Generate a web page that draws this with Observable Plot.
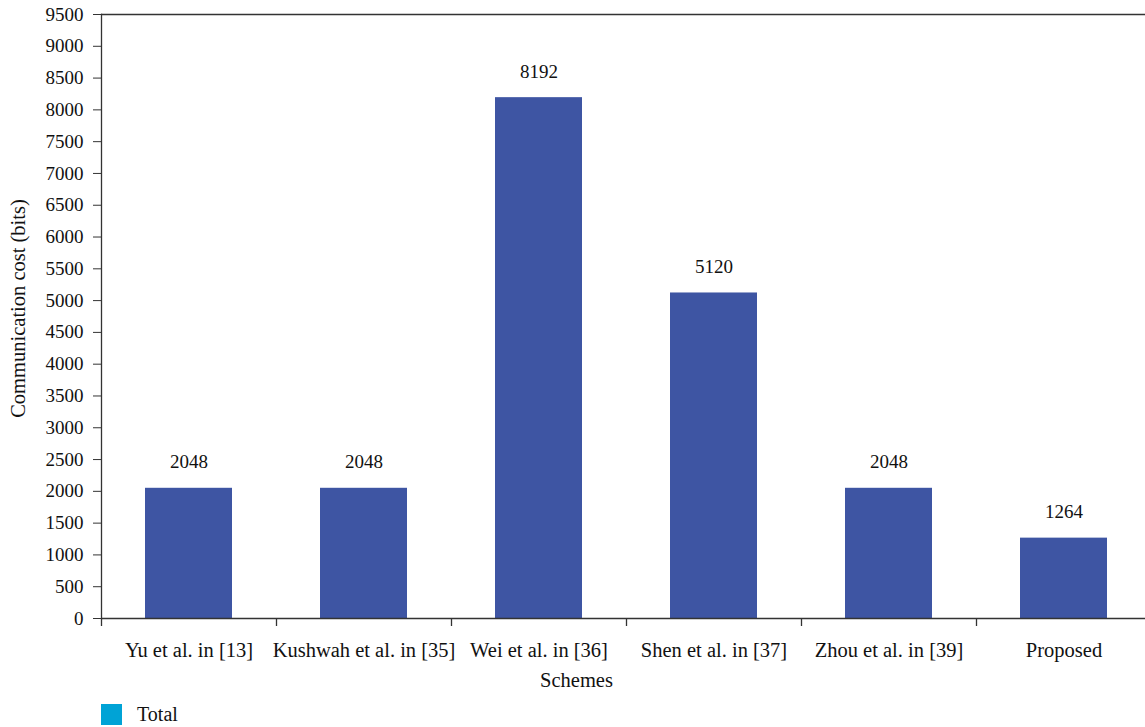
<!DOCTYPE html>
<html>
<head>
<meta charset="utf-8">
<script src="https://cdn.jsdelivr.net/npm/d3@7"></script>
<script src="https://cdn.jsdelivr.net/npm/@observablehq/plot@0.6"></script>
<style>
  body { margin: 0; background: #fff; font-family: "Liberation Serif", serif; overflow: hidden; }
  svg text { font-family: "Liberation Serif", serif !important; }
  #legend { display: flex; align-items: center; margin-left: 101px; margin-top: 13px; font-size: 20px; color: #111; }
  #legend .sw { width: 21px; height: 21px; background: #00a3d6; margin-right: 15px; }
</style>
</head>
<body>
<div id="chart"></div>
<div id="legend"><div class="sw"></div><span>Total</span></div>
<script>
const schemes = ["Yu et al. in [13]", "Kushwah et al. in [35]", "Wei et al. in [36]", "Shen et al. in [37]", "Zhou et al. in [39]", "Proposed"];
const values = [2048, 2048, 8192, 5120, 2048, 1264];
const yTicks = d3.range(0, 9501, 500);

const data = schemes.map((s, i) => ({scheme: s, value: values[i]}));
const axisColor = "#333";
const fs = 19;
const fsx = 20.5;

const plot = Plot.plot({
  width: 1145,
  height: 690,
  marginTop: 14,
  marginBottom: 72,
  marginLeft: 101,
  marginRight: 0,
  style: {fontFamily: "'Liberation Serif', serif", fontSize: fs + "px", color: "#111", background: "#fff", overflow: "visible"},
  x: {domain: schemes, range: [101, 1151], paddingInner: 0.505, paddingOuter: 0.2525, label: null},
  y: {domain: [0, 9500], label: null},
  marks: [
    Plot.barY(data, {x: "scheme", y: "value", fill: "#3e55a3"}),
    Plot.text(data, {x: "scheme", y: "value", text: d => String(d.value), dy: -26, fontSize: fs, fill: "#111"}),
    Plot.ruleY([9500], {stroke: axisColor, strokeWidth: 1.3}),
    Plot.ruleY([0], {stroke: axisColor, strokeWidth: 1.3}),
    Plot.frame({anchor: "left", stroke: axisColor, strokeWidth: 1.3}),
    Plot.ruleX(schemes, {x: d => d, y1: 0, y2: -126, dx: -87.5, stroke: axisColor, strokeWidth: 1.3}),
    Plot.axisY({ticks: yTicks, tickFormat: d => String(d), tickSize: 8, tickPadding: 10, stroke: axisColor, fontSize: fs, label: null}),
    Plot.axisX({tickSize: 0, tickPadding: 24, fontSize: fsx, label: null}),
    Plot.text(["Schemes"], {frameAnchor: "bottom", dx: -47, dy: 68, fontSize: fsx, fill: "#111"}),
    Plot.text(["Communication cost (bits)"], {frameAnchor: "left", textAnchor: "middle", dx: -83, dy: -8, rotate: -90, fontSize: fsx, fill: "#111"})
  ]
});
document.getElementById("chart").appendChild(plot);
</script>
</body>
</html>
